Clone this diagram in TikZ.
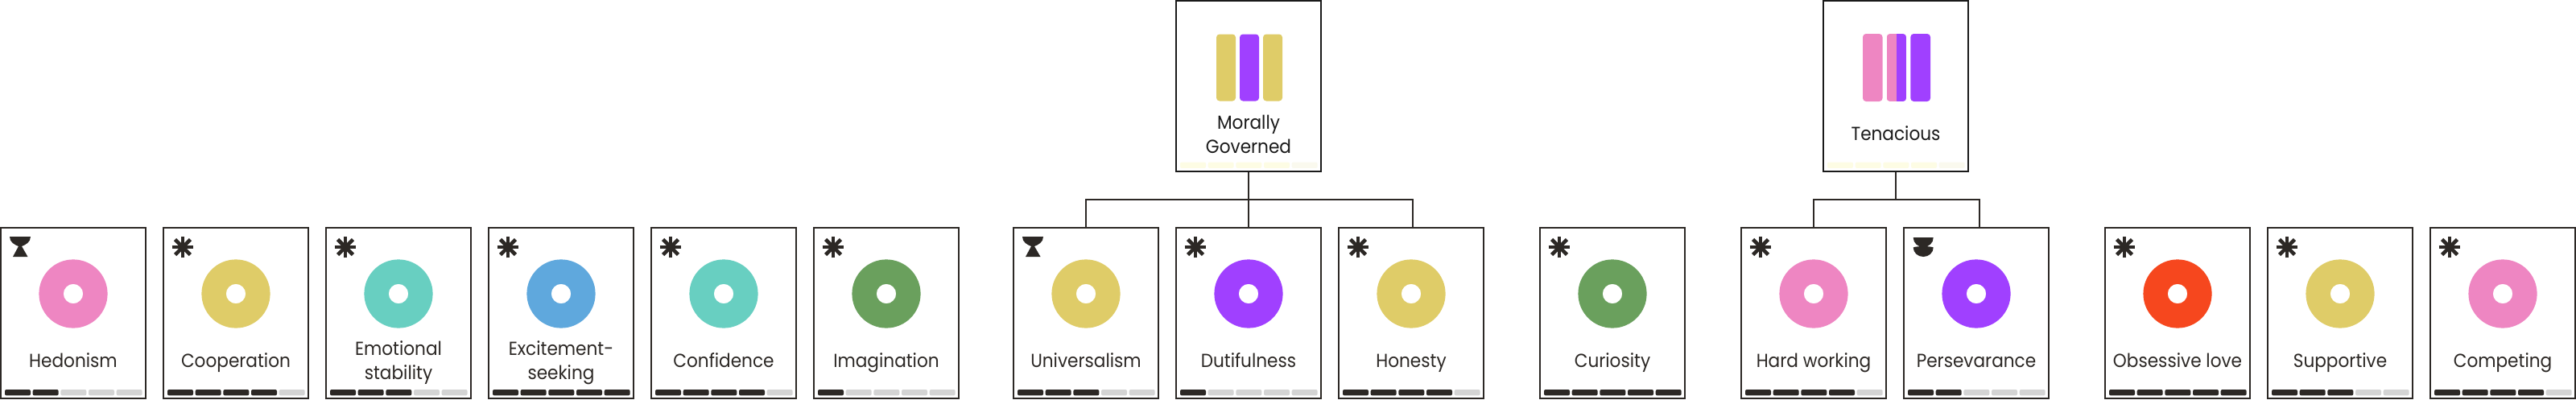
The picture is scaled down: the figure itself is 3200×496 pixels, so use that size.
\documentclass[tikz,border=0pt]{standalone}
\usepackage{fontspec}
\setmainfont[FakeStretch=0.92]{Poppins}
\definecolor{ink}{HTML}{2C2825}
\definecolor{topink}{HTML}{1A1A1A}
\definecolor{offbar}{HTML}{D4D4D4}
\definecolor{paleA}{HTML}{FDFCE4}
\definecolor{paleB}{HTML}{FAF9EE}
\definecolor{cpink}{HTML}{EE86C2}
\definecolor{cyellow}{HTML}{DFCC68}
\definecolor{cteal}{HTML}{68CFC1}
\definecolor{cblue}{HTML}{5FA8DD}
\definecolor{cgreen}{HTML}{6AA05D}
\definecolor{cpurple}{HTML}{A040FF}
\definecolor{cred}{HTML}{F6471E}
\tikzset{
  x=1pt,y=-1pt,
  cardbox/.style={draw=ink,line width=2pt,fill=white,minimum width=180pt,minimum height=212pt,inner sep=0pt},
  topbox/.style={cardbox,draw=topink},
  lab/.style={inner sep=0pt,text=ink,align=center,font=\fontsize{23.5}{30}\selectfont,anchor=base},
  toplab/.style={lab,text=topink},
  conn/.style={draw=ink,line width=2pt},
  seg/.style={rounded corners=2pt},
}
% icons: #1 = left edge of card
\newcommand{\iconstar}[1]{%
  \begin{scope}[shift={(#1+25,307)}]
    \foreach \a in {0,45,90,135}
      \draw[ink,line width=4.6pt,rotate=\a] (-13.4,0) -- (13.4,0);
  \end{scope}}
\newcommand{\iconglass}[1]{%
  \begin{scope}[shift={(#1,0)}]
    \fill[ink] (12,294) -- (38,294) .. controls (38,301) and (32,304) .. (27,306) -- (34.5,319) -- (16,319) -- (23,306) .. controls (18,304) and (12,301) .. (12,294) -- cycle;
  \end{scope}}
\newcommand{\iconmoon}[1]{%
  \begin{scope}[shift={(#1,0)}]
    \fill[ink] (12.7,295) -- (37.7,295) .. controls (37.7,302) and (32,307) .. (25.2,307) .. controls (18.4,307) and (12.7,302) .. (12.7,295) -- cycle;
    \fill[ink] (12.7,307.4) .. controls (17,305.6) and (33.4,305.6) .. (37.7,307.4) .. controls (37.7,314) and (32,319) .. (25.2,319) .. controls (18.4,319) and (12.7,314) .. (12.7,307.4) -- cycle;
  \end{scope}}
% #1 left edge, #2 top y of bars, #3 count on, #4 colour on, #5 colour off
\newcommand{\barsrow}[5]{%
  \foreach \i in {0,...,4}{%
    \pgfmathtruncatemacro{\isOn}{\i<#3 ? 1 : 0}%
    \ifnum\isOn=1 \def\segcol{#4}\else \def\segcol{#5}\fi
    \fill[\segcol,seg] (#1+6+34.67*\i,#2) rectangle (#1+38+34.67*\i,#2+7.4);
  }}
% #1 name #2 left #3 colour #4 icon macro #5 bars on #6 label #7 last baseline y
\newcommand{\carditem}[7]{%
  \node[cardbox] (#1) at (#2+91,389) {};
  #4{#2}
  \fill[#3,even odd rule] (#2+91,365) circle[radius=42.6pt] (#2+91,365) circle[radius=12.2pt];
  \node[lab] (#1-label) at (#2+91,#7) {#6};
  \barsrow{#2}{484}{#5}{ink}{offbar}
}
\begin{document}
\begin{tikzpicture}
\useasboundingbox (0,0) rectangle (3200,496);
\fill[white] (0,0) rectangle (3200,496);

% parents
\node[topbox] (mg) at (1551,107) {};
\fill[cyellow,rounded corners=4pt] (1511,42.5) rectangle (1535,125.5);
\fill[cpurple,rounded corners=4pt] (1540,42.5) rectangle (1564,125.5);
\fill[cyellow,rounded corners=4pt] (1569,42.5) rectangle (1593,125.5);
\node[toplab] (mg-label) at (1551,190) {Morally\\Governed};
\barsrow{1460}{201.5}{4}{paleA}{paleB}

\node[topbox] (ten) at (2355,107) {};
\fill[cpink,rounded corners=4pt] (2314,42) rectangle (2338.5,126);
\begin{scope}
  \clip[rounded corners=4pt] (2343.7,42) rectangle (2368,126);
  \fill[cpink] (2343.7,42) rectangle (2356,126);
  \fill[cpurple] (2356,42) rectangle (2368,126);
\end{scope}
\fill[cpurple,rounded corners=4pt] (2373.3,42) rectangle (2398,126);
\node[toplab] (ten-label) at (2355,174.3) {Tenacious};
\barsrow{2264}{201.5}{4}{paleA}{paleB}

% cards
\carditem{c1}{0}{cpink}{\iconglass}{2}{Hedonism}{456}
\carditem{c2}{202}{cyellow}{\iconstar}{4}{Cooperation}{456}
\carditem{c3}{404}{cteal}{\iconstar}{3}{Emotional\\stability}{471.7}
\carditem{c4}{606}{cblue}{\iconstar}{5}{Excitement-\\seeking}{471.7}
\carditem{c5}{808}{cteal}{\iconstar}{4}{Confidence}{456}
\carditem{c6}{1010}{cgreen}{\iconstar}{1}{Imagination}{456}
\carditem{c7}{1258}{cyellow}{\iconglass}{3}{Universalism}{456}
\carditem{c8}{1460}{cpurple}{\iconstar}{1}{Dutifulness}{456}
\carditem{c9}{1662}{cyellow}{\iconstar}{4}{Honesty}{456}
\carditem{c10}{1912}{cgreen}{\iconstar}{5}{Curiosity}{456}
\carditem{c11}{2162}{cpink}{\iconstar}{4}{Hard working}{456}
\carditem{c12}{2364}{cpurple}{\iconmoon}{2}{Persevarance}{456}
\carditem{c13}{2614}{cred}{\iconstar}{5}{Obsessive love}{456}
\carditem{c14}{2816}{cyellow}{\iconstar}{3}{Supportive}{456}
\carditem{c15}{3018}{cpink}{\iconstar}{4}{Competing}{456}

% connectors
\draw[conn] (mg.south) -- ++(0,34) -| (c7.north);
\draw[conn] (mg.south) -- (c8.north);
\draw[conn] (mg.south) -- ++(0,34) -| ([xshift=2pt]c9.north);
\draw[conn] (ten.south) -- ++(0,34) -| (c11.north);
\draw[conn] (ten.south) -- ++(0,34) -| ([xshift=4pt]c12.north);
\end{tikzpicture}
\end{document}
